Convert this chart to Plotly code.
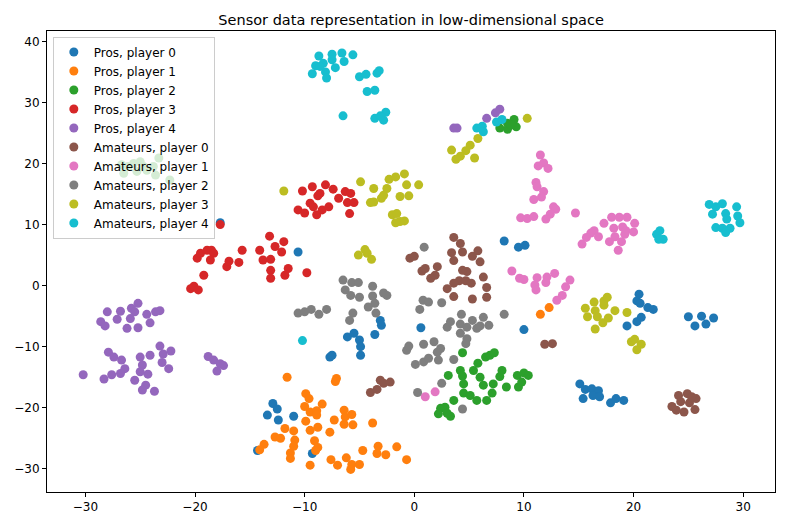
import plotly.graph_objects as go

# series values (t-SNE style embedding)
pros_0_x = [-17.7, -10.6, -3.1, -3.0, -3.6, -6.1, -5.5, -5.0, -4.9, -4.9, -7.7, -7.5, 0.6, 8.2, 9.5, 10.1, 10.0,
            -12.9, -12.5, -13.4, -12.4, -11.0, -14.3, -9.3, 20.5, 20.3, 20.6, 21.3, 21.8, 20.7, 20.3, 19.4,
            25.0, 25.6, 26.2, 26.6, 27.3, 15.1, 15.6, 16.2, 16.8, 16.3, 16.9, 15.4, 17.9, 18.4, 19.1]
pros_0_y = [10.3, 5.5, -5.7, -6.5, -8.0, -8.4, -7.8, -8.9, -10.0, -11.4, -11.7, -11.4, -6.9, 7.3, 6.3, 6.6, -7.2,
            -19.3, -20.2, -21.2, -22.0, -21.4, -27.0, -27.5, -1.4, -2.5, -2.9, -3.6, -3.9, -5.2, -5.9, -6.6,
            -5.1, -6.6, -5.0, -6.3, -5.3, -16.1, -17.0, -16.9, -17.2, -18.0, -18.2, -18.5, -19.2, -18.5, -18.8]

pros_1_x = [-11.6, -7.1, -7.2, -9.9, -9.6, -10.0, -9.5, -8.9, -8.4, -8.9, -9.9, -8.8, -9.5, -11.0, -11.8,
            -12.7, -12.2, -10.9, -11.0, -11.3, -11.3, -13.7, -14.1, -9.1, -8.8, -9.0, -9.5, -7.3, -7.7, -6.4,
            -6.3, -5.7, -6.4, -5.6, -3.8, -7.6, -7.0, -6.2, -5.7, -5.8, -5.0, -4.7, -3.3, -3.4, -2.6, -1.6,
            -0.7, 11.5, 12.3]
pros_1_y = [-15.0, -15.2, -15.7, -17.7, -18.5, -19.8, -20.7, -20.5, -19.4, -21.2, -22.2, -23.2, -23.7, -23.8,
            -23.4, -24.8, -25.0, -25.3, -26.3, -27.4, -28.3, -26.0, -26.9, -25.4, -26.5, -27.0, -29.4, -22.0,
            -24.0, -20.4, -21.5, -21.1, -22.7, -22.8, -22.5, -28.5, -29.4, -28.2, -29.3, -30.1, -29.3, -27.0,
            -26.3, -27.5, -27.7, -26.4, -28.5, -4.7, -3.6]

pros_2_x = [-26.7, -26.1, -25.6, -25.0, -25.3, -24.4, -23.8, -23.3, -23.6, -22.3, -26.5, -24.7,
            7.8, 8.5, 8.5, 9.1, 9.3, 8.8,
            4.4, 3.1, 4.2, 4.4, 4.5, 5.4, 5.8, 6.5, 6.9, 7.3, 6.0, 6.3, 7.2, 7.8, 8.0, 8.4, 9.4, 10.0,
            10.4, 9.5, 9.8, 4.5, 5.1, 5.7, 6.6, 7.1, 3.6, 2.4, 2.8, 3.3, 2.2, 3.0]
pros_2_y = [19.8, 19.5, 20.0, 20.3, 18.7, 18.9, 19.5, 20.9, 18.1, 17.3, 18.4, 19.5,
            25.8, 25.6, 26.6, 27.2, 26.0, 26.3,
            -11.0, -14.7, -13.9, -14.8, -16.1, -13.9, -12.7, -11.7, -11.4, -11.0, -15.0, -16.3, -16.1, -14.9,
            -13.9, -16.6, -14.7, -14.3, -14.7, -16.6, -15.8, -17.6, -18.0, -18.8, -18.8, -17.6, -18.8, -20.1,
            -19.9, -21.4, -21.0, -20.9]

pros_3_x = [-19.8, -19.5, -18.9, -18.5, -18.3, -18.6, -19.2, -20.4, -20.1, -19.7, -17.1, -16.9, -16.0,
            -15.7, -14.1, -13.8, -13.1, -13.2, -12.7, -11.9, -12.1, -13.1, -13.1, -11.8, -11.5, -9.8, -17.7,
            -10.2, -9.3, -8.6, -8.1, -7.4, -8.8, -9.5, -9.2, -10.6, -10.0, -8.9, -8.4, -7.8, -6.9, -6.3,
            -5.8, -6.1, -5.5, -5.9]
pros_3_y = [4.5, 5.3, 5.8, 5.8, 5.3, 4.2, 1.7, -0.5, -0.1, -0.7, 3.1, 4.0, 3.8, 5.8, 5.8, 4.2, 4.3, 8.1,
            6.4, 7.2, 5.5, 2.5, 1.2, 1.7, 2.8, 2.1, 10.0,
            15.5, 16.2, 15.1, 16.5, 15.8, 14.7, 13.5, 12.9, 12.4, 11.9, 11.6, 12.4, 12.9, 14.3, 15.4, 15.1,
            13.6, 13.6, 11.8]

pros_4_x = [-28.0, -26.8, -27.1, -25.8, -25.2, -25.5, -25.9, -26.2, -25.2, -24.4, -23.6, -23.2, -24.1,
            -28.6, -28.2, -27.9, -27.4, -26.7, -26.4, -26.8, -27.6, -28.3, -30.2, -25.0, -24.8, -25.0,
            -24.3, -25.5, -24.5, -24.8, -23.7, -24.1, -23.2, -22.9, -23.0, -22.2, -22.4, -18.8, -18.3,
            -17.7, -17.4, -18.0, 3.6, 3.9, 6.6, 7.4, 7.8]
pros_4_y = [-4.3, -4.2, -5.5, -3.7, -2.9, -4.3, -5.4, -7.0, -6.9, -4.7, -4.3, -4.1, -6.1, -5.9, -6.6,
            -10.9, -11.7, -12.2, -13.6, -14.4, -14.6, -15.3, -14.6, -11.7, -13.0, -14.1, -14.5, -15.5, -16.3,
            -17.1, -17.3, -11.4, -9.9, -11.2, -12.6, -10.7, -13.6, -11.6, -12.2, -12.8, -13.1, -14.0,
            25.8, 25.8, 27.4, 28.3, 28.9]

amateurs_0_x = [3.6, 4.2, 4.4, 3.4, 3.6, 5.3, 5.8, 6.0, 4.8, 4.4, 4.1, 3.6, 3.0, 4.7, 5.2, 6.3, 6.6, 3.6,
                5.3, 6.6, -0.4, 0.0, 0.7, 1.0, 2.1, 1.5, 1.9, 11.9, 12.6, -4.0, -3.4, -3.1, -2.8, -2.2,
                23.5, 24.1, 24.9, 25.7, 24.3, 25.1, 25.6, 24.6, 23.9, 25.3]
amateurs_0_y = [7.9, 6.9, 5.5, 5.4, 4.1, 4.8, 5.7, 3.9, 2.3, 2.5, 0.8, 0.4, -0.5, 0.8, 0.4, 1.4, -0.3, -1.8,
                -2.2, -1.9, 4.5, 4.8, 2.4, 2.8, 3.1, 1.2, 1.7, -9.6, -9.5, -17.5, -17.0, -15.5, -16.0, -15.8,
                -19.8, -18.0, -17.7, -18.5, -19.0, -19.2, -20.3, -20.7, -20.4, -18.2]

amateurs_1_x = [14.7, 17.3, 18.0, 18.7, 19.4, 20.1, 18.2, 19.0, 19.3, 20.0, 19.2, 18.3, 18.9, 17.8, 18.6,
                16.4, 16.1, 16.8, 15.7, 15.3, 14.2, 13.8, 13.5, 1.0, 1.9, 8.9, 9.6, 10.0, 11.2, 12.1, 12.8,
                11.0, 11.1, 12.0, 13.0, 11.5, 11.8, 12.2, 11.3, 11.1, 11.2, 11.8, 11.6, 10.9, 12.7, 12.9,
                12.4, 12.0, 9.7, 10.3, 10.9]
amateurs_1_y = [11.9, 10.2, 11.2, 11.2, 11.2, 10.2, 9.4, 9.6, 9.0, 8.8, 8.4, 8.0, 7.2, 7.2, 5.8, 9.0, 8.6,
                8.0, 7.9, 6.8, 0.9, -0.2, -1.6, -18.2, -17.4, 2.4, 1.2, 1.0, 1.3, 1.4, 2.0, 0.1, -0.7, 0.5,
                -2.4, 21.4, 20.1, 19.2, 19.6, 16.9, 16.2, 15.4, 14.5, 14.1, 12.9, 12.5, 11.7, 10.9, 11.1,
                11.0, 11.3]

amateurs_2_x = [-6.5, -5.7, -5.1, -6.3, -5.8, -5.0, -3.8, -2.8, -2.5, -3.8, -3.6, -4.2, -3.5, -5.6, -5.9,
                -10.6, -10.0, -9.4, -8.7, -8.0, 0.9, 0.8, 1.3, 0.5, 2.5, 4.3, 5.3, 6.3, 6.8, 3.0, 3.3, 4.2,
                4.8, 5.7, 6.0, 4.2, 4.8, 4.7, 8.2, -0.7, -0.5, 0.85, 1.8, 2.4, 2.1, 0.1, 0.85, 1.3, 2.2,
                3.6, 2.5, 0.3, 4.4]
amateurs_2_y = [0.9, 0.5, 0.5, -0.7, -1.6, -1.9, -0.1, -1.2, -1.6, -1.7, -2.9, -3.5, -4.5, -4.5, -5.7,
                -4.5, -4.3, -3.9, -4.7, -3.9, 6.3, -2.4, -2.7, -3.9, -2.8, -4.7, -5.7, -5.2, -6.5, -6.8,
                -5.9, -6.3, -6.8, -7.0, -6.6, -7.8, -8.7, -9.5, -4.7, -10.6, -9.9, -9.6, -9.2, -10.3, -10.9,
                -12.9, -12.5, -11.9, -12.2, -12.1, -16.0, -17.5, -20.2]

amateurs_3_x = [15.6, 16.4, 17.3, 17.6, 17.3, 16.5, 15.8, 16.7, 17.2, 17.7, 16.5, 18.3, 19.4, 19.8, 20.1,
                20.7, 20.3, 10.3, 5.8, 5.1, 4.7, 3.4, 4.2, 3.8, 5.5, -11.9, -4.9, -3.7, -2.5, -2.3, -1.7,
                -0.9, -0.7, 0.4, -2.8, -3.0, -4.0, -3.7, -1.3, -0.5, -2.0, -1.6, -1.3, -1.7, -0.9, -5.1,
                -4.5, -4.3, -3.9]
amateurs_3_y = [-3.7, -2.7, -2.5, -1.9, -3.2, -4.1, -5.1, -5.1, -6.1, -5.3, -7.1, -4.1, -4.4, -9.2, -8.8,
                -9.6, -10.5, 27.4, 24.1, 23.0, 22.1, 22.2, 21.2, 20.7, 20.9, 15.5, 17.0, 15.9, 15.9, 17.4,
                17.8, 18.3, 16.5, 16.5, 14.8, 14.3, 13.6, 13.7, 14.6, 14.7, 11.6, 11.8, 10.5, 10.3, 10.6,
                5.0, 5.9, 5.3, 4.3]

amateurs_4_x = [-8.7, -7.5, -6.6, -5.6, -6.4, -7.5, -8.3, -9.0, -9.3, -8.1, -8.0, -7.2, -8.6, -5.0, -4.4,
                -4.3, -3.6, -3.4, -3.2, -6.5, -3.6, -2.8, -2.6, -3.1, 5.7, 6.2, 6.3, 7.5, 8.0, -10.2,
                26.9, 27.5, 28.1, 27.2, 28.4, 29.4, 29.5, 29.7, 28.5, 27.5, 28.1, 28.4, 28.8,
                22.1, 22.4, 22.7, 22.3]
amateurs_4_y = [37.6, 37.9, 38.1, 37.8, 36.7, 37.0, 36.4, 36.0, 34.7, 35.0, 34.0, 35.7, 35.9, 34.2, 34.6,
                31.8, 32.0, 34.8, 35.2, 27.8, 27.4, 27.1, 28.4, 27.8, 25.8, 26.1, 25.2, 26.8, 27.2, -9.0,
                13.3, 12.9, 13.4, 11.7, 11.8, 12.9, 11.4, 10.3, 10.9, 9.5, 9.4, 8.7, 9.4,
                8.4, 9.0, 7.6, 7.6]

series = [
    ("Pros, player 0", pros_0_x, pros_0_y, "#1f77b4"),
    ("Pros, player 1", pros_1_x, pros_1_y, "#ff7f0e"),
    ("Pros, player 2", pros_2_x, pros_2_y, "#2ca02c"),
    ("Pros, player 3", pros_3_x, pros_3_y, "#d62728"),
    ("Pros, player 4", pros_4_x, pros_4_y, "#9467bd"),
    ("Amateurs, player 0", amateurs_0_x, amateurs_0_y, "#8c564b"),
    ("Amateurs, player 1", amateurs_1_x, amateurs_1_y, "#e377c2"),
    ("Amateurs, player 2", amateurs_2_x, amateurs_2_y, "#7f7f7f"),
    ("Amateurs, player 3", amateurs_3_x, amateurs_3_y, "#bcbd22"),
    ("Amateurs, player 4", amateurs_4_x, amateurs_4_y, "#17becf"),
]

fig = go.Figure()
for name, xs, ys, col in series:
    fig.add_trace(go.Scatter(x=xs, y=ys, mode="markers", name=name,
                             marker=dict(color=col, size=9, line=dict(width=0))))

axis_style = dict(showgrid=False, zeroline=False, showline=True, linecolor="black", linewidth=1,
                  mirror=True, ticks="outside", ticklen=4, tickcolor="black", automargin=False,
                  tickfont=dict(family="DejaVu Sans", size=12, color="black"))

# the page body has an 8px margin, so the figure is sized to sit inside the window
fig.update_layout(
    width=773, height=510,
    margin=dict(l=39, r=6, t=23, b=26),
    paper_bgcolor="white", plot_bgcolor="white",
    title=dict(text="Sensor data representation in low-dimensional space",
               x=0.5215, xanchor="center", y=0.976, yanchor="middle",
               font=dict(family="DejaVu Sans", size=14.5, color="black")),
    legend=dict(x=0.008, y=0.988, xanchor="left", yanchor="top",
                bgcolor="rgba(255,255,255,0.8)", bordercolor="#cccccc", borderwidth=1,
                font=dict(family="DejaVu Sans", size=12, color="black"), tracegroupgap=0),
    showlegend=True,
)
fig.update_xaxes(range=[-33.5, 32.9], tickvals=[-30, -20, -10, 0, 10, 20, 30], **axis_style)
fig.update_yaxes(range=[-33.8, 41.7], tickvals=[-30, -20, -10, 0, 10, 20, 30, 40], **axis_style)

fig.write_html("out.html")
